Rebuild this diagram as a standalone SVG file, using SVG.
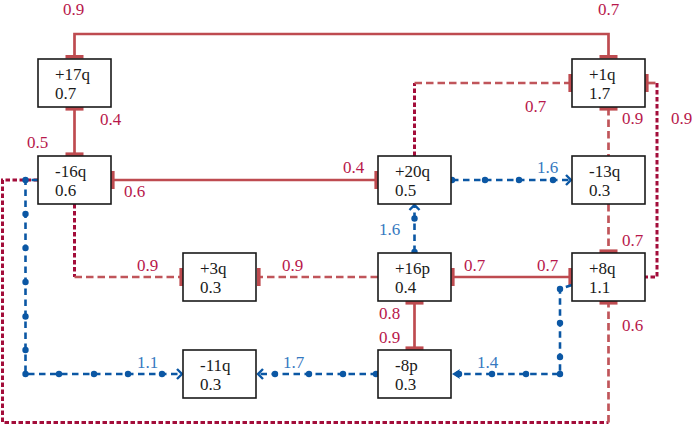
<svg xmlns="http://www.w3.org/2000/svg" width="693" height="425" viewBox="0 0 693 425" font-family="Liberation Serif, DejaVu Serif, serif" font-size="17">
<style>
.box{fill:#fff;stroke:#1a1a1a;stroke-width:1.6}
.t{fill:#1a1a1a}
.lr{fill:#B8174B}
.lb{fill:#3578C0}
.solid{fill:none;stroke:#BE4B50;stroke-width:2.7}
.dash{fill:none;stroke:#C0555A;stroke-width:2.7;stroke-dasharray:7.5 4}
.dot{fill:none;stroke:#A30D3A;stroke-width:3;stroke-dasharray:4.5 2.5}
.blue{fill:none;stroke:#0B57A4;stroke-width:2.6;stroke-dasharray:6.5 4.5}
.chev{fill:none;stroke:#0B57A4;stroke-width:2.4;stroke-linejoin:miter}
.tee{fill:#BE4B50}
.bd{fill:#0B57A4}
</style>
<g id="connectors">
  <path class="solid" d="M74.5,56 V34 H608.5 V56"/>
  <path class="solid" d="M74.5,108 V155"/>
  <path class="solid" d="M112,180 H377"/>
  <path class="dot" d="M414.5,156 V83"/>
  <path class="dash" d="M414.5,83 H569"/>
  <path class="dash" d="M648,83 H657"/>
  <path class="dot" d="M657,83 V277 H645"/>
  <path class="dash" d="M608.5,108 V156"/>
  <path class="dash" d="M608.5,204 V250"/>
  <path class="dash" d="M378,277 H259"/>
  <path class="dot" d="M74.5,204 V277"/>
  <path class="dash" d="M74.5,277 H181"/>
  <path class="solid" d="M452,277 H570"/>
  <path class="solid" d="M414.5,302 V348"/>
  <path class="dot" d="M38,180 H2.5 V422.5 H608.5"/>
  <path class="dash" d="M608.5,422.5 V303"/>
  <rect class="tee" x="65.5" y="55" width="18" height="3.6"/>
  <rect class="tee" x="599.5" y="55" width="18" height="3.6"/>
  <rect class="tee" x="65.5" y="107" width="18" height="3.6"/>
  <rect class="tee" x="65.5" y="152.4" width="18" height="3.6"/>
  <rect class="tee" x="111" y="171" width="3.6" height="18"/>
  <rect class="tee" x="374.4" y="171" width="3.6" height="18"/>
  <rect class="tee" x="568.4" y="74" width="3.6" height="18"/>
  <rect class="tee" x="645" y="74" width="3.6" height="18"/>
  <rect class="tee" x="599.5" y="107" width="18" height="3.6"/>
  <rect class="tee" x="599.5" y="249.4" width="18" height="3.6"/>
  <rect class="tee" x="257" y="268" width="3.6" height="18"/>
  <rect class="tee" x="179.4" y="268" width="3.6" height="18"/>
  <rect class="tee" x="451" y="268" width="3.6" height="18"/>
  <rect class="tee" x="568.4" y="268" width="3.6" height="18"/>
  <rect class="tee" x="405.5" y="301" width="18" height="3.6"/>
  <rect class="tee" x="405.5" y="346.4" width="18" height="3.6"/>
  <rect class="tee" x="599.5" y="301" width="18" height="3.6"/>
  <path class="blue" d="M452,180 H570"/>
  <polyline class="chev" points="566,175 571,180 566,185"/>
  <circle class="bd" cx="452" cy="180" r="3.2"/>
  <circle class="bd" cx="485" cy="180" r="3.2"/>
  <circle class="bd" cx="519" cy="180" r="3.2"/>
  <circle class="bd" cx="553" cy="180" r="3.2"/>
  <path class="blue" d="M414.5,252 V206"/>
  <polyline class="chev" points="409.5,210 414.5,205 419.5,210"/>
  <circle class="bd" cx="414.5" cy="252" r="3.2"/>
  <circle class="bd" cx="414.5" cy="218.5" r="3.2"/>
  <path class="blue" d="M572,285 L560,289 V374 H458"/>
  <circle class="bd" cx="560" cy="289" r="3.2"/>
  <circle class="bd" cx="560" cy="323" r="3.2"/>
  <circle class="bd" cx="560" cy="357" r="3.2"/>
  <circle class="bd" cx="560" cy="374" r="3.2"/>
  <circle class="bd" cx="526" cy="374" r="3.2"/>
  <circle class="bd" cx="492" cy="374" r="3.2"/>
  <circle class="bd" cx="459" cy="374" r="3.2"/>
  <path class="bd" d="M452,374 L460,369 L458,374 L460,379 Z"/>
  <path class="blue" d="M377,374 H259"/>
  <polyline class="chev" points="263,369 258,374 263,379"/>
  <circle class="bd" cx="376" cy="374" r="3.2"/>
  <circle class="bd" cx="343" cy="374" r="3.2"/>
  <circle class="bd" cx="309" cy="374" r="3.2"/>
  <circle class="bd" cx="275" cy="374" r="3.2"/>
  <path class="blue" d="M38,180 H25.5 V374 H181"/>
  <polyline class="chev" points="177,369 182,374 177,379"/>
  <circle class="bd" cx="25.5" cy="180" r="3.2"/>
  <circle class="bd" cx="25.5" cy="214" r="3.2"/>
  <circle class="bd" cx="25.5" cy="248" r="3.2"/>
  <circle class="bd" cx="25.5" cy="282" r="3.2"/>
  <circle class="bd" cx="25.5" cy="316.5" r="3.2"/>
  <circle class="bd" cx="25.5" cy="350" r="3.2"/>
  <circle class="bd" cx="25.5" cy="374" r="3.2"/>
  <circle class="bd" cx="59" cy="374" r="3.2"/>
  <circle class="bd" cx="94" cy="374" r="3.2"/>
  <circle class="bd" cx="128" cy="374" r="3.2"/>
  <circle class="bd" cx="162" cy="374" r="3.2"/>
</g>
<g id="labels">
  <text class="lr" x="63" y="15">0.9</text>
  <text class="lr" x="598" y="15">0.7</text>
  <text class="lr" x="100" y="125">0.4</text>
  <text class="lr" x="27" y="148">0.5</text>
  <text class="lr" x="124" y="197">0.6</text>
  <text class="lr" x="343" y="173">0.4</text>
  <text class="lr" x="525" y="112">0.7</text>
  <text class="lr" x="622" y="124">0.9</text>
  <text class="lr" x="671" y="124">0.9</text>
  <text class="lb" x="537" y="173">1.6</text>
  <text class="lr" x="137" y="271">0.9</text>
  <text class="lb" x="137" y="368">1.1</text>
  <text class="lb" x="379" y="235">1.6</text>
  <text class="lr" x="282" y="271">0.9</text>
  <text class="lr" x="379" y="319">0.8</text>
  <text class="lr" x="379" y="343">0.9</text>
  <text class="lb" x="283" y="368">1.7</text>
  <text class="lr" x="464" y="271">0.7</text>
  <text class="lr" x="537" y="271">0.7</text>
  <text class="lr" x="622" y="246">0.7</text>
  <text class="lr" x="622" y="331">0.6</text>
  <text class="lb" x="477" y="368">1.4</text>
</g>
<g id="n17q"><rect class="box" x="38" y="59" width="73" height="48"/><text class="t" x="55" y="80">+17q</text><text class="t" x="55" y="99">0.7</text></g>
<g id="n1q"><rect class="box" x="572" y="59" width="73" height="48"/><text class="t" x="589" y="80">+1q</text><text class="t" x="589" y="99">1.7</text></g>
<g id="nm16q"><rect class="box" x="38" y="156" width="73" height="48"/><text class="t" x="55" y="177">-16q</text><text class="t" x="55" y="196">0.6</text></g>
<g id="n20q"><rect class="box" x="378" y="156" width="73" height="48"/><text class="t" x="395" y="177">+20q</text><text class="t" x="395" y="196">0.5</text></g>
<g id="nm13q"><rect class="box" x="572" y="156" width="73" height="48"/><text class="t" x="589" y="177">-13q</text><text class="t" x="589" y="196">0.3</text></g>
<g id="n3q"><rect class="box" x="183" y="253" width="73" height="48"/><text class="t" x="200" y="274">+3q</text><text class="t" x="200" y="293">0.3</text></g>
<g id="n16p"><rect class="box" x="378" y="253" width="73" height="48"/><text class="t" x="395" y="274">+16p</text><text class="t" x="395" y="293">0.4</text></g>
<g id="n8q"><rect class="box" x="572" y="253" width="73" height="48"/><text class="t" x="589" y="274">+8q</text><text class="t" x="589" y="293">1.1</text></g>
<g id="nm11q"><rect class="box" x="183" y="350" width="73" height="48"/><text class="t" x="200" y="371">-11q</text><text class="t" x="200" y="390">0.3</text></g>
<g id="nm8p"><rect class="box" x="378" y="350" width="73" height="48"/><text class="t" x="395" y="371">-8p</text><text class="t" x="395" y="390">0.3</text></g>
</svg>
